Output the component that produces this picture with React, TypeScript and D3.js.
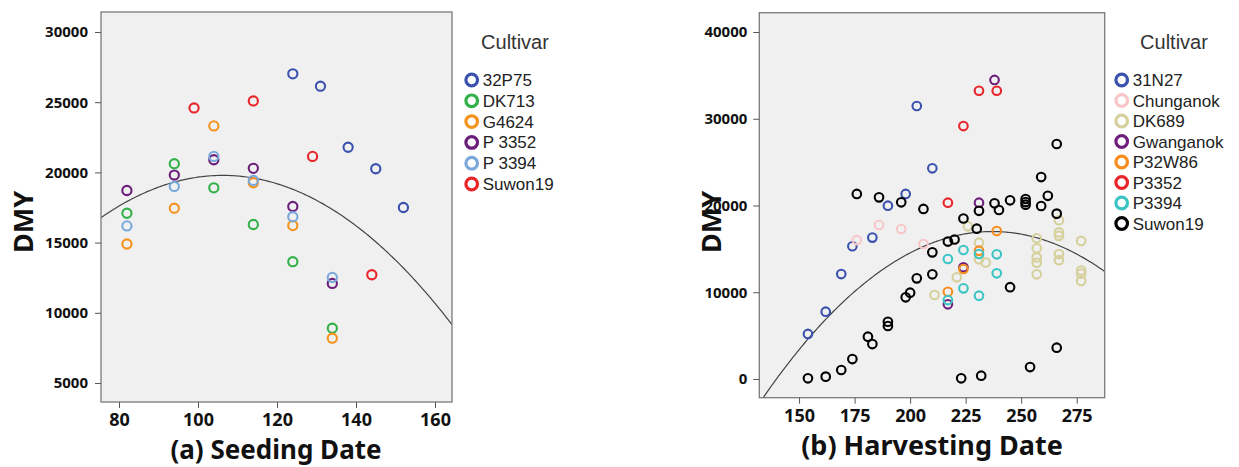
import React, { useEffect, useRef } from 'react';
import * as d3 from 'd3';

// ---- (a) Seeding date panel data: [seeding day, DMY]
const seedCultivars = ['32P75', 'DK713', 'G4624', 'P 3352', 'P 3394', 'Suwon19'];
const seedColors = ['#3a52ad', '#33b149', '#f5931f', '#6b1f7a', '#7aa8db', '#e9242b'];
const seed32P75 = [[124, 27020], [131, 26140], [138, 21790], [145, 20260], [152, 17500]];
const seedDK713 = [[82, 17090], [94, 20620], [104, 18900], [114, 16290], [124, 13640], [134, 8900]];
const seedG4624 = [[82, 14900], [94, 17450], [104, 23310], [114, 19260], [124, 16210], [134, 8190]];
const seedP3352 = [[82, 18710], [94, 19810], [104, 20900], [114, 20290], [124, 17570], [134, 12090]];
const seedP3394 = [[82, 16190], [94, 19000], [104, 21140], [114, 19430], [124, 16840], [134, 12520]];
const seedSuwon19 = [[99, 24590], [114, 25090], [129, 21140], [144, 12710]];
const seedXTicks = [80, 100, 120, 140, 160];
const seedYTicks = [5000, 10000, 15000, 20000, 25000, 30000];
const seedFit = [-15918, 671.8, -3.16]; // quadratic fit a + b*x + c*x^2

// ---- (b) Harvesting date panel data: [harvest day, DMY]
const harvCultivars = ['31N27', 'Chunganok', 'DK689', 'Gwanganok', 'P32W86', 'P3352', 'P3394', 'Suwon19'];
const harvColors = ['#3a52ad', '#f8c6c8', '#d5d09c', '#6e1f7c', '#f68c1c', '#e9242b', '#3cc4c4', '#000000'];
const harv31N27 = [[154, 5190], [162, 7760], [169, 12100], [174, 15300], [183, 16300], [190, 19980], [198, 21330], [210, 24290], [203, 31470]];
const harvChunganok = [[176, 16020], [186, 17750], [196, 17290], [206, 15560]];
const harvDK689 = [
  [211, 9680], [221, 11720], [226, 17600], [231, 13800], [231, 15710], [234, 13420],
  [257, 16220], [257, 15070], [257, 14020], [257, 13400], [257, 12070],
  [267, 18300], [267, 16900], [267, 16500], [267, 14400], [267, 13700],
  [277, 15920], [277, 12500], [277, 12150], [277, 11310],
];
const harvGwanganok = [[238, 34470], [231, 20320], [224, 12880], [217, 8610]];
const harvP32W86 = [[217, 10060], [224, 12680], [231, 14790], [239, 17060]];
const harvP3352 = [[231, 33230], [239, 33230], [224, 29160], [217, 20320]];
const harvP3394 = [[217, 13830], [217, 9100], [224, 14870], [224, 10450], [231, 14410], [231, 9600], [239, 14370], [239, 12180]];
const harvSuwon19 = [
  [154, 80], [162, 270], [169, 1040], [174, 2300], [181, 4880], [183, 4030], [190, 6600], [190, 6110],
  [198, 9420], [200, 9950], [203, 11600], [210, 12070], [210, 14600], [176, 21330], [186, 20940],
  [196, 20370], [206, 19600], [217, 15840], [220, 16080], [224, 18500], [230, 17330], [231, 19390],
  [238, 20250], [240, 19480], [245, 20600], [252, 20750], [252, 20400], [252, 20100], [259, 23280],
  [259, 19940], [262, 21120], [266, 27090], [266, 19060], [245, 10580], [223, 80], [232, 380],
  [254, 1380], [266, 3610],
];
const harvXTicks = [150, 175, 200, 225, 250, 275];
const harvYTicks = [0, 10000, 20000, 30000, 40000];
const harvFit = [-84104, 853.2, -1.8];

const seedSeries = [seed32P75, seedDK713, seedG4624, seedP3352, seedP3394, seedSuwon19];
const harvSeries = [harv31N27, harvChunganok, harvDK689, harvGwanganok, harvP32W86, harvP3352, harvP3394, harvSuwon19];

const panels = [
  {
    id: 'a', x0: 101, x1: 452, y0: 12, y1: 402,
    xDomain: [75.44, 164.3], yDomain: [3647, 31424],
    xTicks: seedXTicks, yTicks: seedYTicks, series: seedSeries, names: seedCultivars, colors: seedColors,
    fit: seedFit, title: '(a) Seeding Date', titleX: 276, titleY: 459, titleFont: 26, dmyX: 23,
    tickFont: 18, tickPad: 5, legX: 471.7, legY: 80, legStep: 20.8, cultX: 515, r: 4.6,
  },
  {
    id: 'b', x0: 759.3, x1: 1104.7, y0: 12.7, y1: 397.7,
    xDomain: [132.1, 287.6], yDomain: [-2156, 42225],
    xTicks: harvXTicks, yTicks: harvYTicks, series: harvSeries, names: harvCultivars, colors: harvColors,
    fit: harvFit, title: '(b) Harvesting Date', titleX: 932, titleY: 455, titleFont: 27, dmyX: 711,
    tickFont: 18, tickPad: 6, legX: 1121.7, legY: 80, legStep: 20.5, cultX: 1174, r: 4.3,
  },
];

const BOLD = "'Noto Sans', 'DejaVu Sans', sans-serif";
const ARIAL = "'Liberation Sans', Arial, sans-serif";

const App = () => {
  const ref = useRef<SVGSVGElement>(null);

  useEffect(() => {
    const svg = d3.select(ref.current);
    svg.selectAll('*').remove();

    panels.forEach((p) => {
      const g = svg.append('g');
      const x = d3.scaleLinear().domain(p.xDomain).range([p.x0, p.x1]);
      const y = d3.scaleLinear().domain(p.yDomain).range([p.y1, p.y0]);

      g.append('rect')
        .attr('x', p.x0).attr('y', p.y0)
        .attr('width', p.x1 - p.x0).attr('height', p.y1 - p.y0)
        .attr('fill', '#f0f0f0');

      const clipId = `clip-${p.id}`;
      g.append('clipPath').attr('id', clipId)
        .append('rect')
        .attr('x', p.x0).attr('y', p.y0)
        .attr('width', p.x1 - p.x0).attr('height', p.y1 - p.y0);

      // fit curve
      const [a, b, c] = p.fit;
      const xs = d3.range(0, 201).map(i => p.xDomain[0] + (p.xDomain[1] - p.xDomain[0]) * i / 200);
      const line = d3.line<number>().x(d => x(d)).y(d => y(a + b * d + c * d * d));
      g.append('path')
        .datum(xs)
        .attr('clip-path', `url(#${clipId})`)
        .attr('fill', 'none')
        .attr('stroke', '#444')
        .attr('stroke-width', 1.2)
        .attr('d', line);

      // points
      p.series.forEach((pts, si) => {
        g.append('g')
          .selectAll('circle')
          .data(pts)
          .join('circle')
          .attr('cx', d => x(d[0]))
          .attr('cy', d => y(d[1]))
          .attr('r', p.r)
          .attr('fill', 'none')
          .attr('stroke', p.colors[si])
          .attr('stroke-width', 2.1);
      });

      // frame
      g.append('rect')
        .attr('x', p.x0).attr('y', p.y0)
        .attr('width', p.x1 - p.x0).attr('height', p.y1 - p.y0)
        .attr('fill', 'none')
        .attr('stroke', '#7a7a7a')
        .attr('stroke-width', 1.3);

      const xAxis = g.append('g')
        .attr('transform', `translate(0,${p.y1})`)
        .call(d3.axisBottom(x).tickValues(p.xTicks).tickSize(6).tickSizeOuter(0).tickPadding(p.tickPad).tickFormat(d3.format('d')));
      xAxis.select('.domain').remove();
      xAxis.selectAll('line').attr('stroke', '#555');
      xAxis.selectAll('text')
        .attr('fill', '#111')
        .style('font-family', BOLD)
        .style('font-weight', 700)
        .style('font-size', `${p.tickFont}px`);

      const yAxis = g.append('g')
        .attr('transform', `translate(${p.x0},0)`)
        .call(d3.axisLeft(y).tickValues(p.yTicks).tickSize(6).tickSizeOuter(0).tickPadding(p.id === 'a' ? 7 : 6).tickFormat(d3.format('d')));
      yAxis.select('.domain').remove();
      yAxis.selectAll('line').attr('stroke', '#555');
      yAxis.selectAll('text')
        .attr('fill', '#111')
        .style('font-family', BOLD)
        .style('font-weight', 700)
        .style('font-size', '15px');

      // titles
      g.append('text')
        .attr('x', p.titleX).attr('y', p.titleY)
        .attr('text-anchor', 'middle')
        .style('font-family', BOLD).style('font-weight', 700).style('font-size', `${p.titleFont}px`)
        .attr('fill', '#111')
        .text(p.title);

      g.append('text')
        .attr('transform', `translate(${p.dmyX + 10},222) rotate(-90)`)
        .attr('text-anchor', 'middle')
        .style('font-family', BOLD).style('font-weight', 700).style('font-size', '27px')
        .attr('fill', '#111')
        .text('DMY');

      // legend
      g.append('text')
        .attr('x', p.cultX).attr('y', 49)
        .attr('text-anchor', 'middle')
        .style('font-family', ARIAL).style('font-size', '20px')
        .attr('fill', '#333')
        .text('Cultivar');

      const leg = g.append('g')
        .selectAll('g')
        .data(p.names)
        .join('g')
        .attr('transform', (d, i) => `translate(${p.legX},${p.legY + i * p.legStep})`);
      leg.append('circle')
        .attr('r', 5.8)
        .attr('fill', 'none')
        .attr('stroke', (d, i) => p.colors[i])
        .attr('stroke-width', 3.2);
      leg.append('text')
        .attr('x', 11).attr('y', 6)
        .style('font-family', ARIAL).style('font-size', '17px')
        .attr('fill', '#222')
        .text(d => d);
    });
  }, []);

  return (
    <svg ref={ref} width={1239} height={467}
      style={{ position: 'absolute', left: 0, top: 0, background: '#fff' }} />
  );
};

export default App;
